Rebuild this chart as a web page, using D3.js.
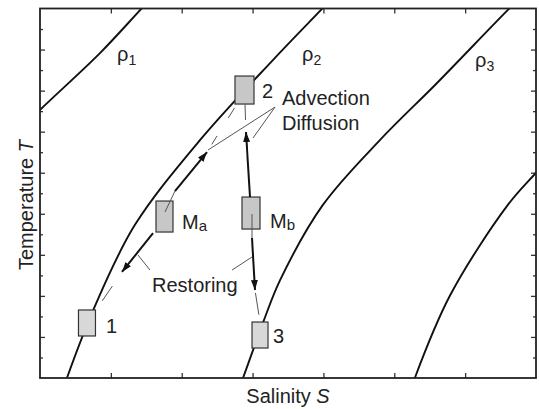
<!DOCTYPE html>
<html>
<head>
<meta charset="utf-8">
<script src="https://cdn.jsdelivr.net/npm/d3@7"></script>
<style>
  html, body { margin: 0; padding: 0; background: #fff; }
  text { font-family: "Liberation Sans", Arial, Helvetica, sans-serif; fill: #222; }
</style>
</head>
<body>
<div id="chart-container"></div>
<script>
// axis domains and ticks (no tick labels in the figure)
var sDomain = [0, 7];
var tDomain = [0, 9];
var sTicks = [1, 2, 3, 4, 5, 6];
var tMajorTicks = [1, 2, 3, 4, 5, 6, 7, 8];
var tMinorTicks = [0.5, 1.5, 2.5, 3.5, 4.5, 5.5, 6.5, 7.5, 8.5];

// isopycnals, [S, T] points
var rho1 = [[-0.28, 6.04], [0, 6.53], [0.85, 7.92], [1.44, 9.01], [1.62, 9.33]];
var rho2 = [[0.31, -0.37], [0.38, 0], [0.80, 1.85], [1.34, 3.73], [2.26, 5.80],
            [3.29, 7.75], [3.99, 9.01], [4.23, 9.45]];
var rho3 = [[2.78, -0.37], [2.865, 0], [3.15, 1.36], [3.39, 2.39], [3.99, 4.21], [4.80, 5.80],
            [5.60, 7.18], [6.60, 8.96], [6.92, 9.5]];
var rho4 = [[5.22, -0.37], [5.29, 0], [5.79, 2.02], [6.60, 4.21], [7.01, 5.02], [7.34, 5.68]];
var rhoCurves = [rho1, rho2, rho3, rho4];
var rhoLabels = ['1', '2', '3'];
var rhoLabelS = [1.087, 3.698, 6.139];
var rhoLabelT = [7.72, 7.72, 7.574];

// water mass boxes
var boxNames = ['2', 'Ma', 'Mb', '1', '3'];
var boxS = [2.886, 1.757, 2.978, 0.663, 3.105];
var boxT = [7.014, 3.933, 4.018, 1.340, 1.047];
var boxLabelS = [3.133, 2.004, 3.246, 0.931, 3.288];
var boxLabelT = [6.819, 3.629, 3.653, 1.096, 0.852];

// thick arrows (advection / restoring)
var arrowFrom = [[1.595, 3.531], [1.905, 4.554], [2.964, 4.408], [2.992, 3.410]];
var arrowTo   = [[1.157, 2.582], [2.357, 5.504], [2.907, 5.991], [3.034, 2.143]];

// thin connectors between boxes and arrows
var linkFrom = [[1.157, 2.582], [1.764, 4.043], [2.357, 5.504], [2.907, 5.991], [2.992, 3.994], [3.034, 2.143]];
var linkTo   = [[0.790, 1.656], [1.905, 4.554], [2.780, 6.673], [2.893, 6.673], [2.992, 3.410], [3.105, 1.364]];

// annotation text and leader lines
var noteTexts = ['Advection', 'Diffusion', 'Restoring'];
var noteS = [3.415, 3.415, 1.581];
var noteT = [6.649, 6.040, 2.094];
var leaderFrom = [[3.317, 6.600], [3.317, 6.600], [1.552, 2.630], [2.710, 2.630]];
var leaderTo   = [[2.371, 5.553], [3.006, 5.845], [1.383, 2.996], [2.992, 2.947]];

if (document.addEventListener) {
  document.addEventListener('DOMContentLoaded', function() {
    visualise();
  });
}

function visualise() {
  var svgWidth = 539;
  var svgHeight = 409;
  var margin = {top: 8.5, left: 40, bottom: 31, right: 3};
  var w = svgWidth - margin.left - margin.right;
  var h = svgHeight - margin.top - margin.bottom;

  var svg = d3.select('#chart-container')
    .append('svg')
    .attr('width', svgWidth)
    .attr('height', svgHeight);

  var defs = svg.append('defs');
  defs.append('clipPath').attr('id', 'plot-clip')
    .append('rect').attr('width', w).attr('height', h);
  defs.append('marker')
    .attr('id', 'head')
    .attr('markerUnits', 'userSpaceOnUse')
    .attr('viewBox', '0 -4 10 8')
    .attr('refX', 10).attr('refY', 0)
    .attr('markerWidth', 10).attr('markerHeight', 8)
    .attr('orient', 'auto')
    .append('path')
    .attr('d', 'M0,-3.5L10,0L0,3.5Z')
    .attr('fill', '#111');

  var chart = svg.append('g')
    .attr('transform', 'translate(' + margin.left + ',' + margin.top + ')');

  var x = d3.scaleLinear().domain(sDomain).range([0, w]);
  var y = d3.scaleLinear().domain(tDomain).range([h, 0]);

  // ticks pointing inwards, no labels
  function ticks(axis, vals, size) {
    return axis.tickValues(vals).tickSize(size).tickFormat('');
  }
  var axes = [
    [d3.axisBottom(x), sTicks, -5, 'translate(0,' + h + ')'],
    [d3.axisTop(x), sTicks, -5, null],
    [d3.axisLeft(y), tMajorTicks, -5, null],
    [d3.axisLeft(y), tMinorTicks, -3, null],
    [d3.axisRight(y), tMajorTicks, -5, 'translate(' + w + ',0)'],
    [d3.axisRight(y), tMinorTicks, -3, 'translate(' + w + ',0)']
  ];
  axes.forEach(function(a) {
    var g = chart.append('g').call(ticks(a[0], a[1], a[2]));
    if (a[3]) g.attr('transform', a[3]);
    g.select('.domain').remove();
    g.selectAll('line').attr('stroke', '#333').attr('stroke-width', 1.3);
  });

  // isopycnals
  var line = d3.line()
    .x(function(d) { return x(d[0]); })
    .y(function(d) { return y(d[1]); })
    .curve(d3.curveCatmullRom.alpha(0.5));

  chart.append('g').attr('clip-path', 'url(#plot-clip)')
    .selectAll('path')
    .data(rhoCurves)
    .enter()
    .append('path')
    .attr('d', line)
    .attr('fill', 'none')
    .attr('stroke', '#111')
    .attr('stroke-width', 1.9);

  // frame
  chart.append('rect')
    .attr('width', w).attr('height', h)
    .attr('fill', 'none')
    .attr('stroke', '#222')
    .attr('stroke-width', 1.8);

  rhoLabels.forEach(function(lab, i) {
    var t = chart.append('text')
      .attr('x', x(rhoLabelS[i]))
      .attr('y', y(rhoLabelT[i]))
      .attr('font-size', 20)
      .text('\u03c1');
    t.append('tspan').attr('font-size', 14).attr('dy', 4).text(lab);
  });

  // boxes
  var boxW = {'2': 19, 'Ma': 17, 'Mb': 18, '1': 17, '3': 16};
  var boxH = {'2': 28, 'Ma': 31, 'Mb': 32, '1': 26, '3': 26};
  var boxFill = {'2': '#c7c7c7', 'Ma': '#c7c7c7', 'Mb': '#c7c7c7', '1': '#d8d8d8', '3': '#d8d8d8'};

  chart.selectAll('.box')
    .data(boxNames)
    .enter()
    .append('rect')
    .attr('class', 'box')
    .attr('x', function(d, i) { return x(boxS[i]) - boxW[d] / 2; })
    .attr('y', function(d, i) { return y(boxT[i]) - boxH[d] / 2; })
    .attr('width', function(d) { return boxW[d]; })
    .attr('height', function(d) { return boxH[d]; })
    .attr('fill', function(d) { return boxFill[d]; })
    .attr('stroke', '#333')
    .attr('stroke-width', 1.2);

  boxNames.forEach(function(name, i) {
    var t = chart.append('text')
      .attr('x', x(boxLabelS[i]))
      .attr('y', y(boxLabelT[i]))
      .attr('font-size', 20);
    if (name.length > 1) {
      t.text(name[0]);
      t.append('tspan').attr('font-size', 15).attr('dy', 2).text(name[1]);
    } else {
      t.text(name);
    }
  });

  // thin connectors
  var linkDash = ['0,17,18,100', null, '0,9,10,21,12,100', '0,12,17,100', null, '0,3,22,100'];
  chart.selectAll('.link')
    .data(linkFrom)
    .enter()
    .append('line')
    .attr('class', 'link')
    .attr('x1', function(d) { return x(d[0]); })
    .attr('y1', function(d) { return y(d[1]); })
    .attr('x2', function(d, i) { return x(linkTo[i][0]); })
    .attr('y2', function(d, i) { return y(linkTo[i][1]); })
    .attr('stroke', '#555')
    .attr('stroke-width', 1)
    .attr('stroke-dasharray', function(d, i) { return linkDash[i]; });

  // leaders
  chart.selectAll('.leader')
    .data(leaderFrom)
    .enter()
    .append('line')
    .attr('class', 'leader')
    .attr('x1', function(d) { return x(d[0]); })
    .attr('y1', function(d) { return y(d[1]); })
    .attr('x2', function(d, i) { return x(leaderTo[i][0]); })
    .attr('y2', function(d, i) { return y(leaderTo[i][1]); })
    .attr('stroke', '#555')
    .attr('stroke-width', 1);

  // thick arrows
  chart.selectAll('.arrow')
    .data(arrowFrom)
    .enter()
    .append('line')
    .attr('class', 'arrow')
    .attr('x1', function(d) { return x(d[0]); })
    .attr('y1', function(d) { return y(d[1]); })
    .attr('x2', function(d, i) { return x(arrowTo[i][0]); })
    .attr('y2', function(d, i) { return y(arrowTo[i][1]); })
    .attr('stroke', '#111')
    .attr('stroke-width', 2)
    .attr('marker-end', 'url(#head)');

  noteTexts.forEach(function(s, i) {
    chart.append('text')
      .attr('x', x(noteS[i]))
      .attr('y', y(noteT[i]))
      .attr('font-size', 20)
      .text(s);
  });

  // axis titles
  var xt = svg.append('text')
    .attr('x', margin.left + w / 2)
    .attr('y', 403)
    .attr('text-anchor', 'middle')
    .attr('font-size', 20)
    .text('Salinity ');
  xt.append('tspan').attr('font-style', 'italic').text('S');

  var yt = svg.append('text')
    .attr('transform', 'translate(33,205) rotate(-90)')
    .attr('text-anchor', 'middle')
    .attr('font-size', 20)
    .text('Temperature ');
  yt.append('tspan').attr('font-style', 'italic').text('T');
}
</script>
</body>
</html>
